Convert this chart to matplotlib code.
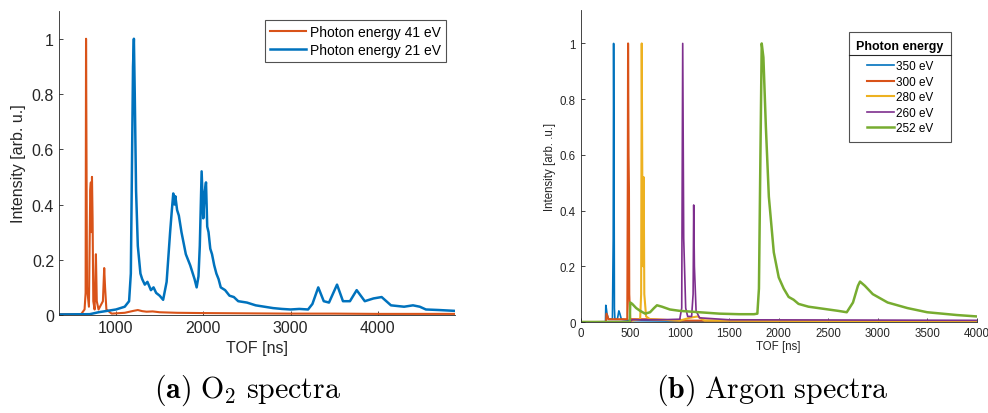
import matplotlib
matplotlib.use('Agg')
import matplotlib.pyplot as plt
from matplotlib.lines import Line2D

plt.rcParams['font.family'] = ['Liberation Sans', 'DejaVu Sans']
plt.rcParams['mathtext.fontset'] = 'cm'

# MATLAB default colour order
c_blue = '#0072BD'; c_orange = '#D95319'; c_yellow = '#EDB120'
c_purple = '#7E2F8E'; c_green = '#77AC30'

# ---- (a) O2 spectra ----
tof_41 = [350, 600, 640, 652, 657, 662, 668, 690, 705, 712, 718, 725, 732, 740, 755, 770,
          780, 800, 850, 865, 875, 890, 950, 1100, 1200, 1250, 1300, 1350, 1420, 1500, 1700,
          2000, 2500, 3000, 3500, 4000, 4500, 4880]
int_41 = [0.003, 0.003, 0.02, 0.08, 1.0, 0.6, 0.1, 0.03, 0.45, 0.48, 0.30, 0.50, 0.35, 0.05, 0.02, 0.22,
          0.05, 0.02, 0.05, 0.17, 0.10, 0.02, 0.005, 0.008, 0.015, 0.018, 0.014, 0.012, 0.013, 0.01, 0.008,
          0.007, 0.006, 0.005, 0.005, 0.004, 0.004, 0.004]

tof_21 = [350, 700, 800, 900, 1000, 1100, 1150, 1170, 1185, 1195, 1205, 1215, 1230, 1250, 1280,
          1300, 1330, 1360, 1400, 1430, 1460, 1500, 1540, 1580, 1620, 1640, 1656, 1670, 1680, 1700,
          1720, 1750, 1775, 1800, 1825, 1850, 1880, 1900, 1924, 1945, 1960, 1981, 2000, 2015,
          2031, 2045, 2060, 2080, 2100, 2125, 2150, 2175, 2200, 2250, 2300, 2350, 2400, 2500,
          2600, 2700, 2800, 2900, 3000, 3100, 3200, 3250, 3317, 3380, 3440, 3532, 3600, 3680,
          3757, 3850, 3950, 4043, 4150, 4300, 4402, 4480, 4550, 4700, 4880]
int_21 = [0.002, 0.003, 0.01, 0.015, 0.02, 0.03, 0.05, 0.15, 0.6, 0.9, 1.0, 0.8, 0.45, 0.25, 0.15,
          0.13, 0.11, 0.12, 0.09, 0.10, 0.08, 0.07, 0.055, 0.12, 0.30, 0.38, 0.44, 0.40, 0.43, 0.38,
          0.36, 0.30, 0.26, 0.22, 0.20, 0.18, 0.15, 0.13, 0.10, 0.14, 0.25, 0.52, 0.35, 0.44,
          0.48, 0.32, 0.30, 0.24, 0.22, 0.18, 0.15, 0.13, 0.10, 0.09, 0.07, 0.065, 0.05, 0.045,
          0.035, 0.03, 0.025, 0.022, 0.02, 0.022, 0.02, 0.04, 0.10, 0.05, 0.045, 0.11, 0.05, 0.05,
          0.09, 0.05, 0.06, 0.065, 0.035, 0.03, 0.035, 0.03, 0.02, 0.018, 0.015]

# ---- (b) Argon spectra ----
tof_350 = [0, 250, 253, 258, 265, 280, 320, 328, 332, 336, 340, 345, 370, 385, 395, 410, 500, 1000, 4000]
int_350 = [0, 0, 0.06, 0.05, 0.03, 0.01, 0.01, 0.3, 1.0, 0.6, 0.05, 0.01, 0.01, 0.04, 0.03, 0.01, 0.005, 0.003, 0.003]

tof_300 = [0, 255, 260, 280, 470, 475, 478, 483, 487, 490, 500, 700, 1000, 4000]
int_300 = [0, 0, 0.03, 0.01, 0.01, 0.5, 1.0, 0.6, 0.48, 0.1, 0.01, 0.01, 0.005, 0.003]

tof_280 = [0, 500, 520, 600, 610, 616, 622, 630, 636, 642, 660, 700, 1000, 1100, 1180, 1250, 4000]
int_280 = [0, 0, 0.005, 0.01, 0.1, 1.0, 0.5, 0.2, 0.52, 0.1, 0.02, 0.01, 0.005, 0.015, 0.02, 0.005, 0.002]

tof_260 = [0, 500, 520, 800, 1000, 1020, 1030, 1040, 1060, 1080, 1120, 1135, 1141, 1148, 1165, 1200, 1500, 4000]
int_260 = [0, 0.002, 0.008, 0.008, 0.01, 0.05, 1.0, 0.3, 0.05, 0.02, 0.02, 0.1, 0.42, 0.2, 0.04, 0.015, 0.008, 0.006]

tof_252 = [0, 495, 500, 520, 560, 600, 650, 700, 740, 770, 820, 900, 1000, 1200, 1400, 1600, 1750,
           1784, 1800, 1815, 1828, 1845, 1870, 1900, 1950, 2000, 2050, 2100, 2150, 2200, 2300, 2400,
           2500, 2600, 2687, 2750, 2800, 2821, 2870, 2950, 3100, 3300, 3500, 3800, 4000]
int_252 = [0, 0, 0.07, 0.065, 0.05, 0.04, 0.03, 0.035, 0.05, 0.06, 0.055, 0.045, 0.04, 0.035, 0.03, 0.028, 0.028,
           0.03, 0.12, 0.6, 1.0, 0.95, 0.7, 0.45, 0.25, 0.16, 0.12, 0.09, 0.08, 0.065, 0.055, 0.05,
           0.045, 0.04, 0.035, 0.07, 0.13, 0.145, 0.13, 0.1, 0.07, 0.05, 0.035, 0.025, 0.02]

fig = plt.figure(figsize=(9.88, 4.14), dpi=100)


def style_axes(ax, fs):
    for s in ['top', 'right']:
        ax.spines[s].set_visible(False)
    for s in ['left', 'bottom']:
        ax.spines[s].set_color('#262626')
        ax.spines[s].set_linewidth(0.6)
    ax.tick_params(direction='in', length=3, width=0.6, colors='#262626', labelsize=fs)


# left panel
ax1 = fig.add_axes([0.0597, 0.2367, 0.4008, 0.734])
ax1.plot(tof_41, int_41, color=c_orange, lw=1.5, label='Photon energy 41 eV')
ax1.plot(tof_21, int_21, color=c_blue, lw=1.8, label='Photon energy 21 eV')
ax1.set_xlim(347, 4883)
ax1.set_ylim(0, 1.1)
ax1.set_xticks([1000, 2000, 3000, 4000])
ax1.set_yticks([0, 0.2, 0.4, 0.6, 0.8, 1])
ax1.set_yticklabels(['0', '0.2', '0.4', '0.6', '0.8', '1'])
style_axes(ax1, 11.5)
ax1.set_xlabel('TOF [ns]', fontsize=11.5, color='#262626', labelpad=4)
ax1.set_ylabel('Intensity [arb. u.]', fontsize=11.5, color='#262626', labelpad=4)
leg1 = ax1.legend(loc='upper right', bbox_to_anchor=(0.978, 0.97), fontsize=10, frameon=True,
                  fancybox=False, edgecolor='#262626', handlelength=2.6, handletextpad=0.3,
                  borderpad=0.35, labelspacing=0.3, borderaxespad=0)
leg1.get_frame().set_linewidth(0.8)

# right panel
ax2 = fig.add_axes([0.5878, 0.2198, 0.4008, 0.7536])
ax2.plot(tof_350, int_350, color=c_blue, lw=1.2, label='350 eV')
ax2.plot(tof_300, int_300, color=c_orange, lw=1.5, label='300 eV')
ax2.plot(tof_280, int_280, color=c_yellow, lw=1.5, label='280 eV')
ax2.plot(tof_260, int_260, color=c_purple, lw=1.2, label='260 eV')
ax2.plot(tof_252, int_252, color=c_green, lw=1.8, label='252 eV')
ax2.set_xlim(0, 4000)
ax2.set_ylim(0, 1.12)
ax2.set_xticks(range(0, 4001, 500))
ax2.set_yticks([0, 0.2, 0.4, 0.6, 0.8, 1])
ax2.set_yticklabels(['0', '0.2', '0.4', '0.6', '0.8', '1'])
style_axes(ax2, 8.3)
ax2.set_xlabel('TOF [ns]', fontsize=8.3, color='#262626', labelpad=1)
ax2.set_ylabel('Intensity [arb. .u.]', fontsize=8.3, color='#262626', labelpad=3)
leg2 = ax2.legend(loc='upper right', bbox_to_anchor=(0.935, 0.928), fontsize=8.5, frameon=True,
                  fancybox=False, edgecolor='#262626', handlelength=2.3, handletextpad=0.15,
                  borderpad=0.62, labelspacing=0.3, borderaxespad=0,
                  title='Photon energy', title_fontproperties={'weight': 'bold', 'size': 9})
leg2.get_frame().set_linewidth(0.8)
leg2._legend_box.sep = 6

# captions
fig.text(0.251, 0.058, r'$\mathbf{(a)}\ \mathrm{O_2\ spectra}$', ha='center', va='center', fontsize=21.5)
fig.text(0.782, 0.058, r'$\mathbf{(b)}\ \mathrm{Argon\ spectra}$', ha='center', va='center', fontsize=21.5)

# separator line under legend title (MATLAB style)
fig.canvas.draw()
fr = leg2.get_frame().get_window_extent()
tb = leg2.get_title().get_window_extent()
inv = fig.transFigure.inverted()
(x0, y0) = inv.transform((fr.x0, tb.y0 - 3))
(x1, _) = inv.transform((fr.x1, tb.y0 - 3))
fig.add_artist(Line2D([x0, x1], [y0, y0], transform=fig.transFigure, color='#262626', lw=0.8))

fig.savefig('out.png', dpi=100)
